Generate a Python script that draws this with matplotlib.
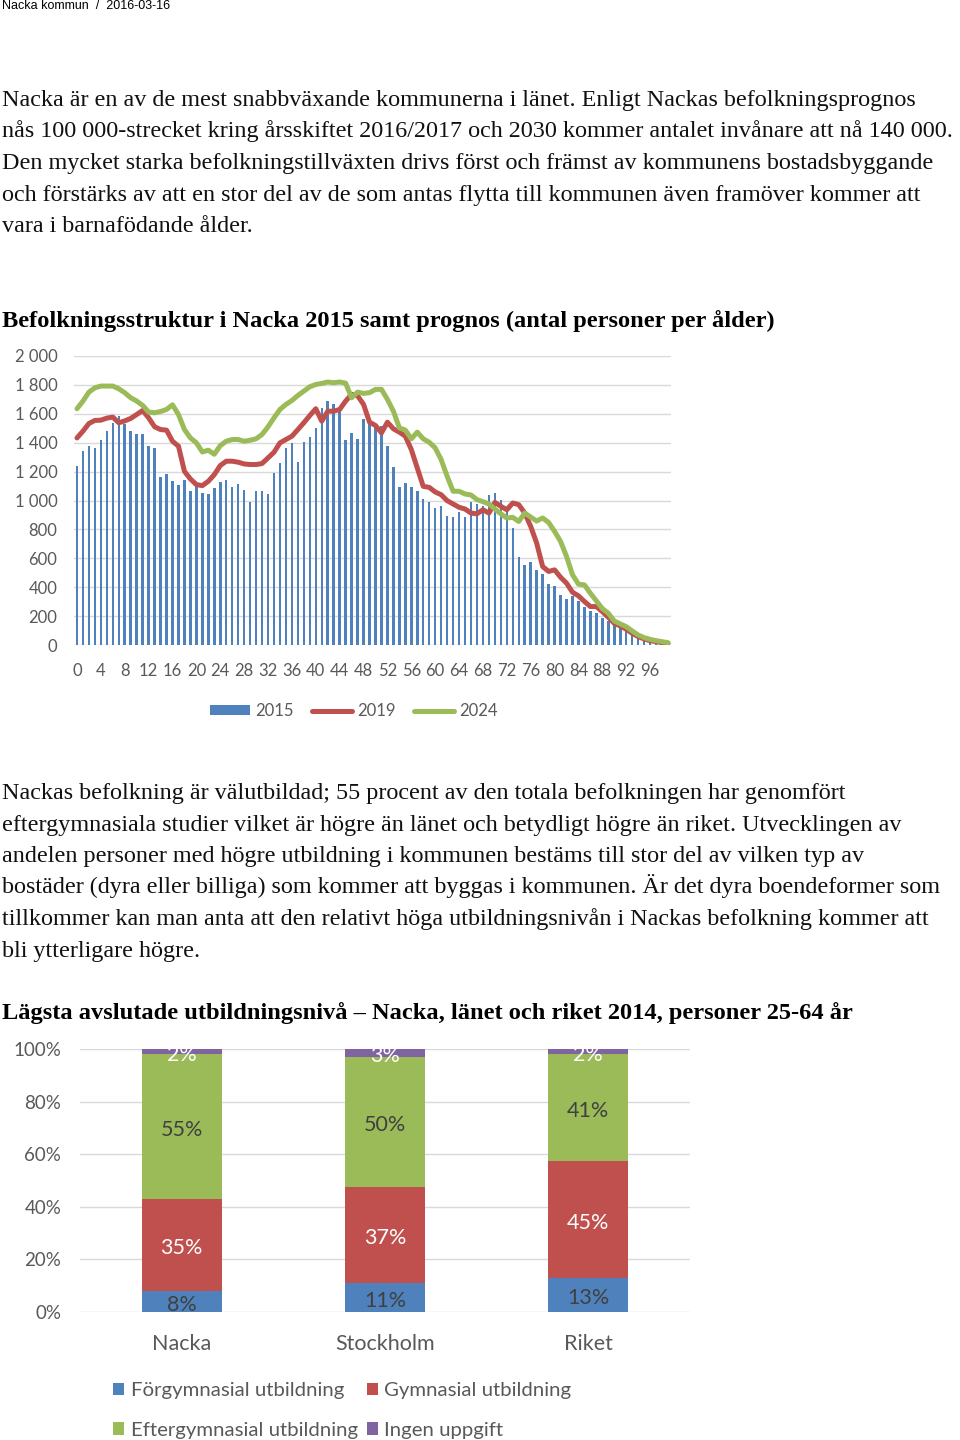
import matplotlib
matplotlib.use("Agg")
import matplotlib.pyplot as plt
from matplotlib.patches import Patch
from matplotlib.lines import Line2D
import numpy as np

# ---------------- data: population by age ----------------
ages = list(range(100))
pop_2015 = [1242, 1346, 1380, 1364, 1422, 1484, 1538, 1584, 1530, 1478,
            1461, 1459, 1376, 1360, 1161, 1182, 1135, 1108, 1145, 1064,
            1098, 1052, 1047, 1089, 1126, 1145, 1096, 1117, 1071, 992,
            1066, 1064, 1047, 1188, 1258, 1360, 1399, 1269, 1408, 1438,
            1500, 1642, 1692, 1669, 1623, 1422, 1468, 1427, 1565, 1526,
            1503, 1519, 1380, 1235, 1091, 1121, 1091, 1066, 1013, 990,
            948, 964, 890, 883, 918, 883, 990, 978, 964, 1040,
            1052, 1006, 918, 812, 610, 553, 571, 520, 490, 421,
            409, 349, 321, 340, 305, 266, 238, 220, 190, 166,
            139, 116, 104, 74, 58, 39, 28, 16, 10, 5]
pop_2019 = [1433, 1480, 1533, 1554, 1556, 1570, 1577, 1538, 1551, 1568,
            1595, 1623, 1572, 1510, 1491, 1487, 1410, 1376, 1202, 1149,
            1110, 1103, 1133, 1179, 1242, 1272, 1272, 1265, 1253, 1249,
            1249, 1256, 1295, 1334, 1399, 1422, 1445, 1491, 1538, 1588,
            1635, 1549, 1618, 1618, 1630, 1688, 1735, 1725, 1665, 1542,
            1519, 1468, 1542, 1496, 1473, 1445, 1353, 1225, 1098, 1091,
            1059, 1040, 999, 976, 953, 941, 913, 908, 936, 913,
            987, 960, 936, 983, 971, 913, 821, 705, 543, 509,
            520, 469, 428, 365, 340, 301, 266, 266, 231, 192,
            150, 132, 109, 81, 58, 42, 30, 23, 16, 12]
pop_2024 = [1635, 1688, 1750, 1780, 1792, 1792, 1792, 1773, 1746, 1711,
            1688, 1658, 1612, 1607, 1616, 1630, 1662, 1595, 1491, 1433,
            1399, 1336, 1348, 1320, 1380, 1410, 1422, 1422, 1410, 1417,
            1427, 1457, 1510, 1572, 1630, 1665, 1692, 1727, 1757, 1787,
            1803, 1810, 1820, 1815, 1820, 1812, 1711, 1750, 1741, 1746,
            1769, 1769, 1700, 1618, 1503, 1487, 1427, 1473, 1427, 1403,
            1364, 1283, 1168, 1064, 1064, 1045, 1038, 1006, 992, 976,
            941, 908, 879, 883, 855, 913, 885, 858, 879, 848,
            786, 717, 613, 486, 421, 416, 358, 305, 252, 220,
            166, 146, 127, 97, 69, 51, 39, 30, 23, 16]
age_ticks = list(range(0, 97, 4))
pop_yticks = list(range(0, 2001, 200))
pop_series = ["2015", "2019", "2024"]

# ---------------- data: education ----------------
regions = ["Nacka", "Stockholm", "Riket"]
edu_levels = ["Förgymnasial utbildning", "Gymnasial utbildning",
              "Eftergymnasial utbildning", "Ingen uppgift"]
forgymnasial = [8, 11, 13]
gymnasial = [35, 37, 45]
eftergymnasial = [55, 50, 41]
ingen_uppgift = [2, 3, 2]
pct_ticks = [0, 20, 40, 60, 80, 100]

# ---------------- texts ----------------
header = "Nacka kommun  /  2016-03-16"
para1 = ["Nacka är en av de mest snabbväxande kommunerna i länet. Enligt Nackas befolkningsprognos",
         "nås 100 000-strecket kring årsskiftet 2016/2017 och 2030 kommer antalet invånare att nå 140 000.",
         "Den mycket starka befolkningstillväxten drivs först och främst av kommunens bostadsbyggande",
         "och förstärks av att en stor del av de som antas flytta till kommunen även framöver kommer att",
         "vara i barnafödande ålder."]
title1 = "Befolkningsstruktur i Nacka 2015 samt prognos (antal personer per ålder)"
para2 = ["Nackas befolkning är välutbildad; 55 procent av den totala befolkningen har genomfört",
         "eftergymnasiala studier vilket är högre än länet och betydligt högre än riket. Utvecklingen av",
         "andelen personer med högre utbildning i kommunen bestäms till stor del av vilken typ av",
         "bostäder (dyra eller billiga) som kommer att byggas i kommunen. Är det dyra boendeformer som",
         "tillkommer kan man anta att den relativt höga utbildningsnivån i Nackas befolkning kommer att",
         "bli ytterligare högre."]
title2 = "Lägsta avslutade utbildningsnivå – Nacka, länet och riket 2014, personer 25-64 år"

# ---------------- style ----------------
W, H = 960, 1440
BLUE, RED, GREEN, PURPLE = "#4F81BD", "#C0504D", "#9BBB59", "#8064A2"
GRID = "#D9D9D9"
TICK = "#595959"
SERIF = ["Liberation Serif", "DejaVu Serif"]
SANS = ["Lato", "DejaVu Sans"]

fig = plt.figure(figsize=(W / 100, H / 100), dpi=100)
fig.patch.set_facecolor("white")


def fy(py):
    return 1 - py / H


def add_axes_px(x0, y0, x1, y1):
    return fig.add_axes([x0 / W, 1 - y1 / H, (x1 - x0) / W, (y1 - y0) / H])


fig.text(2 / W, fy(9), header, fontsize=9, family=["Liberation Sans", "DejaVu Sans"],
         color="black", va="baseline", ha="left")

body_size = 17.4
title_size = 17.6
for i, line in enumerate(para1):
    fig.text(2 / W, fy(106 + i * 31.5), line, fontsize=body_size, family=SERIF,
             color="#111111", va="baseline", ha="left")

fig.text(2 / W, fy(327), title1, fontsize=title_size, family=SERIF, weight="bold",
         color="black", va="baseline", ha="left")

for i, line in enumerate(para2):
    fig.text(2 / W, fy(799 + i * 31.5), line, fontsize=body_size, family=SERIF,
             color="#111111", va="baseline", ha="left")

fig.text(2 / W, fy(1019), title2, fontsize=title_size, family=SERIF, weight="bold",
         color="black", va="baseline", ha="left")

# ---------------- chart 1 ----------------
ax1 = add_axes_px(74, 356, 671, 645)
ax1.bar(ages, pop_2015, width=0.42, color=BLUE, zorder=2)
ax1.plot(ages, pop_2019, color=RED, lw=3.6, solid_capstyle="round",
         solid_joinstyle="round", zorder=3)
ax1.plot(ages, pop_2024, color=GREEN, lw=3.6, solid_capstyle="round",
         solid_joinstyle="round", zorder=4)
ax1.set_xlim(-0.5, 99.5)
ax1.set_ylim(0, 2000)
ax1.set_yticks(pop_yticks)
ax1.set_yticklabels([f"{v:,}".replace(",", " ") for v in pop_yticks])
ax1.set_xticks(age_ticks)
ax1.set_xticklabels([str(a) for a in age_ticks])
ax1.grid(axis="y", color=GRID, lw=1.0, zorder=0)
ax1.set_axisbelow(True)
for s in ax1.spines.values():
    s.set_visible(False)
ax1.tick_params(axis="both", length=0, colors=TICK, labelsize=12)
ax1.tick_params(axis="y", pad=12)
ax1.tick_params(axis="x", pad=13)
for lab in ax1.get_xticklabels() + ax1.get_yticklabels():
    lab.set_family(SANS)

leg1_handles = [Patch(facecolor=BLUE, edgecolor="none"),
                Line2D([], [], color=RED, lw=3.6, solid_capstyle="round"),
                Line2D([], [], color=GREEN, lw=3.6, solid_capstyle="round")]
leg1 = fig.legend(leg1_handles, pop_series, loc="center",
                  bbox_to_anchor=(354 / W, fy(711)), ncol=3, frameon=False,
                  handlelength=2.4, handleheight=0.5,
                  handletextpad=0.3, columnspacing=1.1, borderpad=0,
                  prop={"family": SANS, "size": 12})
for t in leg1.get_texts():
    t.set_color(TICK)

# ---------------- chart 2 ----------------
ax2 = add_axes_px(80, 1049, 690, 1312)
layers = [forgymnasial, gymnasial, eftergymnasial, ingen_uppgift]
colors = [BLUE, RED, GREEN, PURPLE]
label_colors = ["#404040", "white", "#404040", "white"]
totals = np.sum(np.array(layers, dtype=float), axis=0)
x = np.arange(len(regions))
bottom = np.zeros(len(regions))
for vals, col, lcol, name in zip(layers, colors, label_colors, edu_levels):
    share = np.array(vals, dtype=float) / totals * 100
    bc = ax2.bar(x, share, width=0.395, bottom=bottom, color=col, label=name, zorder=2)
    anns = ax2.bar_label(bc, labels=[f"{v}%" for v in vals], label_type="center",
                         color=lcol, fontsize=15.5, family=SANS, clip_on=True)
    for a in anns:
        a.xyann = (0, -2.2)
    bottom = bottom + share
ax2.set_xlim(-0.5, 2.5)
ax2.set_ylim(0, 100)
ax2.set_yticks(pct_ticks)
ax2.set_yticklabels([f"{p}%" for p in pct_ticks])
ax2.set_xticks(x)
ax2.set_xticklabels(regions)
ax2.grid(axis="y", color=GRID, lw=1.0, zorder=0)
ax2.set_axisbelow(True)
for s in ax2.spines.values():
    s.set_visible(False)
ax2.tick_params(axis="both", length=0, colors=TICK)
ax2.tick_params(axis="y", labelsize=13.5, pad=13.5)
ax2.tick_params(axis="x", labelsize=15.5, pad=16)
for lab in ax2.get_xticklabels() + ax2.get_yticklabels():
    lab.set_family(SANS)

order = [0, 2, 1, 3]
leg2 = fig.legend([Patch(facecolor=colors[i], edgecolor="none") for i in order],
                  [edu_levels[i] for i in order], loc="upper left",
                  bbox_to_anchor=(103 / W, fy(1372)), ncol=2, frameon=False,
                  handlelength=0.55, handleheight=0.55, handletextpad=0.3,
                  columnspacing=0.45, labelspacing=1.1, borderpad=0,
                  prop={"family": SANS, "size": 14.7})
for t in leg2.get_texts():
    t.set_color(TICK)

fig.savefig("out.png", dpi=100, facecolor="white")
